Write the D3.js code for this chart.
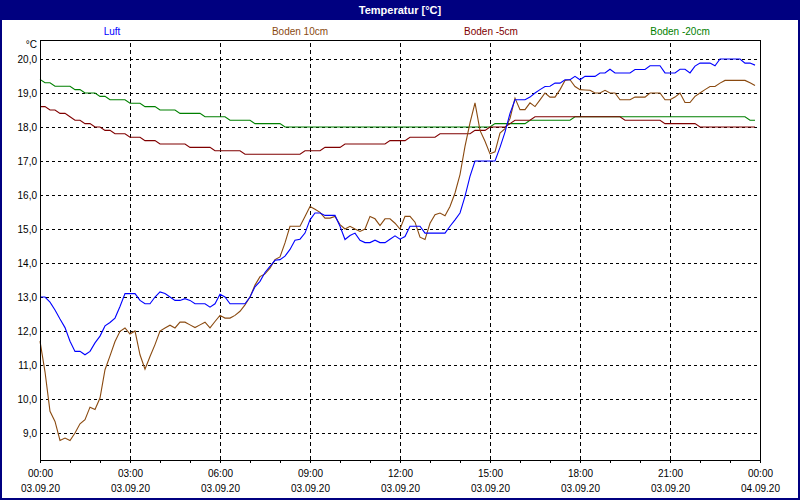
<!DOCTYPE html>
<html><head><meta charset="utf-8">
<script src="https://cdn.jsdelivr.net/npm/d3@7/dist/d3.min.js"></script>
<style>
html,body{margin:0;padding:0;background:#fff;}
svg{display:block;font-family:"Liberation Sans",Arial,sans-serif;}
</style></head>
<body>
<svg id="chart" width="800" height="500"></svg>
<script>
const title = "Temperatur [°C]";
const unitLabel = "°C";
const seriesNames = ["Luft", "Boden 10cm", "Boden -5cm", "Boden -20cm"];
const seriesColors = ["#0000ff", "#8a4a10", "#800000", "#008000"];
const stepMinutes = 10;
const yTicks = [9, 10, 11, 12, 13, 14, 15, 16, 17, 18, 19, 20];
const xMinorTicks = d3.range(0, 25, 1);
const xMajorTicks = [0, 3, 6, 9, 12, 15, 18, 21, 24];
const xTimeLabels = ["00:00", "03:00", "06:00", "09:00", "12:00", "15:00", "18:00", "21:00", "00:00"];
const xDateLabels = ["03.09.20", "03.09.20", "03.09.20", "03.09.20", "03.09.20", "03.09.20", "03.09.20", "03.09.20", "04.09.20"];

const luft = [13.0,13.0,12.85,12.62,12.35,12.1,11.7,11.4,11.4,11.3,11.4,11.65,11.85,12.15,12.25,12.38,12.72,13.1,13.1,13.1,
12.9,12.8,12.8,13.0,13.15,13.1,13.0,12.9,12.9,12.95,12.9,12.8,12.8,12.8,12.7,12.8,13.08,13.0,12.8,12.8,
12.8,12.8,13.0,13.3,13.46,13.72,13.9,14.08,14.1,14.2,14.4,14.67,14.7,14.88,15.27,15.47,15.47,15.4,15.4,15.4,
15.08,14.69,14.81,14.88,14.67,14.6,14.6,14.67,14.6,14.6,14.7,14.8,14.7,14.78,15.08,15.08,15.08,14.88,14.88,14.88,
14.88,14.88,15.08,15.27,15.47,15.96,16.55,17.0,17.0,17.0,17.0,17.0,17.4,17.85,18.4,18.8,18.8,18.8,18.88,19.0,
19.1,19.19,19.2,19.29,19.29,19.39,19.39,19.49,19.39,19.49,19.49,19.49,19.59,19.59,19.7,19.59,19.59,19.59,19.59,19.69,
19.69,19.69,19.8,19.8,19.8,19.59,19.59,19.59,19.7,19.7,19.59,19.79,19.88,19.88,19.88,19.8,20.0,20.0,20.0,20.0,
20.0,19.88,19.88,19.82];

const boden10 = [11.7,10.8,9.64,9.34,8.78,8.85,8.78,9.0,9.27,9.39,9.76,9.69,10.03,10.86,11.27,11.69,11.99,12.09,11.91,12.0,
11.3,10.88,11.25,11.6,12.0,12.09,12.17,12.09,12.26,12.26,12.18,12.1,12.18,12.26,12.09,12.28,12.46,12.38,12.38,12.46,
12.58,12.77,13.0,13.35,13.6,13.68,13.85,14.1,14.18,14.59,15.08,15.08,15.08,15.37,15.66,15.58,15.49,15.32,15.32,15.37,
15.13,15.0,15.08,15.0,14.93,15.0,15.37,15.3,15.1,15.3,15.3,15.17,15.0,15.37,15.37,15.2,14.76,14.69,15.17,15.42,
15.47,15.39,15.66,16.06,16.6,17.43,18.12,18.71,17.9,17.58,17.21,17.27,17.82,17.95,18.25,18.85,18.51,18.51,18.71,18.6,
18.8,19.0,18.88,18.88,19.1,19.37,19.39,19.19,19.1,19.09,19.08,19.0,19.0,19.08,19.0,19.0,18.8,18.8,18.8,18.88,
18.88,18.88,19.0,19.0,19.0,18.8,18.8,18.88,19.0,18.72,18.72,18.9,19.0,19.1,19.19,19.19,19.29,19.37,19.37,19.37,
19.37,19.37,19.3,19.22];

const boden5 = [18.6,18.6,18.5,18.5,18.4,18.4,18.3,18.2,18.2,18.1,18.1,18.0,18.0,17.9,17.9,17.8,17.8,17.8,17.7,17.7,
17.7,17.6,17.6,17.6,17.5,17.5,17.5,17.5,17.5,17.5,17.4,17.4,17.4,17.4,17.4,17.3,17.3,17.3,17.3,17.3,
17.3,17.2,17.2,17.2,17.2,17.2,17.2,17.2,17.2,17.2,17.2,17.2,17.2,17.3,17.3,17.3,17.3,17.4,17.4,17.4,
17.4,17.5,17.5,17.5,17.5,17.5,17.5,17.5,17.5,17.5,17.6,17.6,17.6,17.6,17.7,17.7,17.7,17.7,17.7,17.7,
17.8,17.8,17.8,17.8,17.8,17.8,17.8,17.9,17.9,17.9,18.0,18.0,18.0,18.0,18.1,18.2,18.2,18.2,18.2,18.3,
18.3,18.3,18.3,18.3,18.3,18.3,18.3,18.3,18.3,18.3,18.3,18.3,18.3,18.3,18.3,18.3,18.3,18.2,18.2,18.2,
18.2,18.2,18.2,18.2,18.2,18.1,18.1,18.1,18.1,18.1,18.1,18.1,18.0,18.0,18.0,18.0,18.0,18.0,18.0,18.0,
18.0,18.0,18.0,18.0];

const boden20 = [19.4,19.3,19.3,19.2,19.2,19.2,19.2,19.1,19.1,19.0,19.0,19.0,18.9,18.9,18.8,18.8,18.8,18.8,18.7,18.7,
18.7,18.6,18.6,18.6,18.5,18.5,18.5,18.5,18.4,18.4,18.4,18.4,18.4,18.3,18.3,18.3,18.3,18.3,18.2,18.2,
18.2,18.2,18.2,18.1,18.1,18.1,18.1,18.1,18.1,18.0,18.0,18.0,18.0,18.0,18.0,18.0,18.0,18.0,18.0,18.0,
18.0,18.0,18.0,18.0,18.0,18.0,18.0,18.0,18.0,18.0,18.0,18.0,18.0,18.0,18.0,18.0,18.0,18.0,18.0,18.0,
18.0,18.0,18.0,18.0,18.0,18.0,18.0,18.0,18.0,18.0,18.0,18.1,18.1,18.1,18.1,18.1,18.1,18.1,18.2,18.2,
18.2,18.2,18.2,18.2,18.2,18.2,18.2,18.3,18.3,18.3,18.3,18.3,18.3,18.3,18.3,18.3,18.3,18.3,18.3,18.3,
18.3,18.3,18.3,18.3,18.3,18.3,18.3,18.3,18.3,18.3,18.3,18.3,18.3,18.3,18.3,18.3,18.3,18.3,18.3,18.3,
18.3,18.3,18.2,18.2];

const allSeries = [luft, boden10, boden5, boden20];

const svg = d3.select("#chart");
const W = 800, H = 500;
const plot = {left: 40, right: 760, top: 40, bottom: 460};

const x = d3.scaleLinear().domain([0, 24]).range([plot.left, plot.right]);
const y = d3.scaleLinear().domain([20 - 401/34, 20 + 19/34]).range([plot.bottom, plot.top]);

// background & outer border
svg.append("rect").attr("x", 0).attr("y", 0).attr("width", W).attr("height", H).attr("fill", "#ffffff");
svg.append("rect").attr("x", 1).attr("y", 1).attr("width", W - 2).attr("height", H - 2)
  .attr("fill", "none").attr("stroke", "#000080").attr("stroke-width", 2);

// title bar
svg.append("rect").attr("x", 0).attr("y", 0).attr("width", W).attr("height", 20).attr("fill", "#000080");
svg.append("text").attr("x", 400).attr("y", 14).attr("text-anchor", "middle")
  .attr("fill", "#ffffff").attr("font-weight", "bold").attr("font-size", 11).text(title);

// legend
const legendX = [112, 300, 491, 680];
seriesNames.forEach((n, i) => {
  svg.append("text").attr("x", legendX[i]).attr("y", 35).attr("text-anchor", "middle")
    .attr("font-size", 10).attr("fill", seriesColors[i]).text(n);
});

// unit label
svg.append("text").attr("x", 37).attr("y", 48).attr("text-anchor", "end")
  .attr("font-size", 10).attr("fill", "#000").text(unitLabel);

// horizontal grid
const gy = svg.append("g").attr("transform", `translate(${plot.left},0)`)
  .call(d3.axisLeft(y).tickValues(yTicks).tickSize(-(plot.right - plot.left)).tickFormat(""));
gy.select(".domain").remove();
gy.selectAll("line").attr("stroke", "#000").attr("stroke-dasharray", "3,3").attr("shape-rendering", "crispEdges");

// vertical grid
const gx = svg.append("g").attr("transform", `translate(0,${plot.bottom})`)
  .call(d3.axisBottom(x).tickValues(xMajorTicks.slice(1, -1)).tickSize(-(plot.bottom - plot.top)).tickFormat(""));
gx.select(".domain").remove();
gx.selectAll("line").attr("stroke", "#000").attr("stroke-dasharray", "4,3").attr("shape-rendering", "crispEdges");

// y labels
const yl = svg.append("g").attr("transform", `translate(${plot.left},0)`)
  .call(d3.axisLeft(y).tickValues(yTicks).tickSize(0).tickPadding(3)
    .tickFormat(d => d.toFixed(1).replace(".", ",")));
yl.select(".domain").remove();
yl.selectAll("text").attr("font-size", 10).attr("font-family", "Liberation Sans, Arial, sans-serif").attr("fill", "#000");

// x minor ticks
const xm = svg.append("g").attr("transform", `translate(0,${plot.bottom})`)
  .call(d3.axisBottom(x).tickValues(xMinorTicks).tickSize(3).tickFormat(""));
xm.select(".domain").remove();
xm.selectAll("line").attr("stroke", "#000").attr("shape-rendering", "crispEdges");

// x labels
const xl = svg.append("g").attr("transform", `translate(0,${plot.bottom})`)
  .call(d3.axisBottom(x).tickValues(xMajorTicks).tickSize(0).tickPadding(10)
    .tickFormat((d, i) => xTimeLabels[i]));
xl.select(".domain").remove();
xl.selectAll("text").attr("font-size", 10).attr("font-family", "Liberation Sans, Arial, sans-serif").attr("fill", "#000");
xl.selectAll(".tick").append("text").attr("y", 32).attr("text-anchor", "middle")
  .attr("font-size", 10).attr("font-family", "Liberation Sans, Arial, sans-serif").attr("fill", "#000")
  .text((d, i) => xDateLabels[i]);

// series lines
const line = d3.line().x((d, i) => x(i * stepMinutes / 60)).y(d => y(d));
[3, 2, 1, 0].forEach(k => {
  svg.append("path").datum(allSeries[k]).attr("d", line)
    .attr("fill", "none").attr("stroke", seriesColors[k]).attr("stroke-width", 1.1);
});

// frame
svg.append("rect").attr("x", plot.left + 0.5).attr("y", plot.top + 0.5)
  .attr("width", plot.right - plot.left).attr("height", plot.bottom - plot.top)
  .attr("fill", "none").attr("stroke", "#000").attr("stroke-width", 1);
</script>
</body></html>
